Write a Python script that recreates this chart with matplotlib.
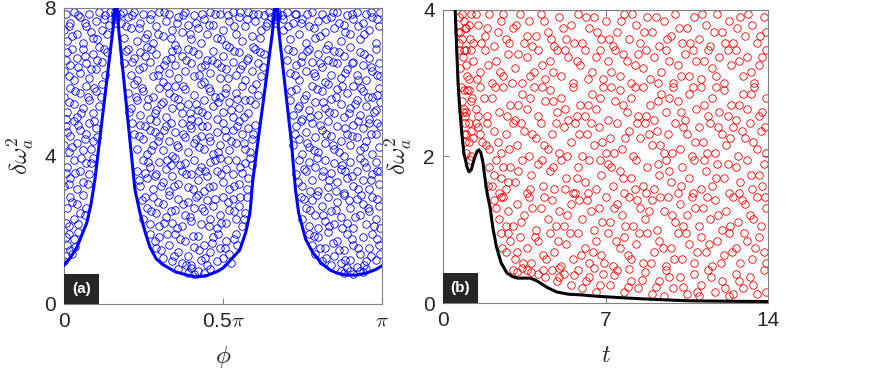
import numpy as np
import matplotlib
matplotlib.use("Agg")
import matplotlib.pyplot as plt
from matplotlib.patches import Rectangle

plt.rcParams['font.family'] = ['Liberation Sans', 'DejaVu Sans']
plt.rcParams['mathtext.fontset'] = 'cm'

GREY = '#808080'
DARK = '#262626'

# ---- panel (a): lower envelope, phi in units of pi ----
curve_a_phi = [0, 0.02, 0.04, 0.06, 0.072, 0.085, 0.097, 0.11, 0.125, 0.14, 0.155, 0.162, 0.167,
               0.171, 0.18, 0.19, 0.2, 0.21, 0.223, 0.239, 0.255, 0.27, 0.29, 0.31, 0.324, 0.35,
               0.387, 0.418, 0.45, 0.48, 0.5, 0.52, 0.553, 0.572, 0.585, 0.594, 0.61, 0.625, 0.64,
               0.655, 0.664, 0.671, 0.674, 0.685, 0.7, 0.715, 0.728, 0.738, 0.76, 0.783, 0.81,
               0.836, 0.86, 0.89, 0.92, 0.953, 0.98, 1.0]
curve_a_val = [1.05, 1.25, 1.52, 1.95, 2.2, 2.7, 3.35, 4.28, 5.35, 6.43, 7.5, 8.1, 8.1,
               7.5, 6.74, 5.9, 5.05, 4.2, 3.1, 2.46, 1.95, 1.54, 1.22, 1.07, 1.0, 0.87,
               0.78, 0.73, 0.77, 0.87, 0.97, 1.15, 1.46, 1.95, 2.46, 3.35, 4.4, 5.36, 6.33,
               7.3, 8.1, 8.1, 7.5, 6.67, 5.53, 4.39, 3.1, 2.46, 1.75, 1.38, 1.1,
               0.92, 0.83, 0.78, 0.78, 0.84, 0.93, 1.03]

# scattered samples (phi/pi, value)
scatter_a = [
    (0.36, 0.95), (0.39, 0.85), (0.41, 0.82), (0.42, 0.9), (0.44, 0.85), (0.46, 0.95), (0.40, 0.98),
    (0.87, 0.9), (0.88, 0.85), (0.9, 0.88), (0.91, 0.82), (0.93, 0.9), (0.95, 0.95), (0.94, 0.86), (0.89, 0.97),
    (0.005, 1.3), (0.01, 1.6), (0.02, 1.45), (0.03, 1.75), (0.015, 1.9), (0.045, 1.95), (0.005, 1.8),
    (0.27, 1.9), (0.29, 1.5), (0.3, 1.8), (0.31, 1.25), (0.33, 1.6), (0.34, 1.15), (0.35, 1.9), (0.36, 1.4),
    (0.37, 1.1), (0.38, 1.7), (0.39, 1.3), (0.4, 1.05), (0.41, 1.55), (0.42, 1.85), (0.43, 1.2), (0.44, 1.6),
    (0.45, 1.05), (0.46, 1.4), (0.47, 1.8), (0.48, 1.15), (0.49, 1.5), (0.5, 1.25), (0.51, 1.7), (0.52, 1.35),
    (0.54, 1.9), (0.545, 1.6),
    (0.77, 1.9), (0.78, 1.6), (0.79, 1.35), (0.8, 1.8), (0.81, 1.15), (0.82, 1.5), (0.83, 1.95), (0.84, 1.05),
    (0.85, 1.3), (0.86, 1.7), (0.87, 1.1), (0.88, 1.45), (0.89, 1.9), (0.9, 1.2), (0.91, 1.6), (0.92, 1.0),
    (0.93, 1.35), (0.94, 1.8), (0.95, 1.15), (0.96, 1.5), (0.97, 1.9), (0.98, 1.2), (0.99, 1.6), (0.995, 1.35),
    (0.005, 2.2), (0.01, 2.6), (0.02, 2.9), (0.03, 2.3), (0.04, 2.7), (0.05, 2.45), (0.06, 2.95), (0.07, 2.6),
    (0.015, 2.1),
    (0.245, 2.8), (0.25, 2.3), (0.26, 2.6), (0.27, 2.15), (0.28, 2.9), (0.29, 2.45), (0.3, 2.1), (0.31, 2.7),
    (0.32, 2.35), (0.33, 2.95), (0.34, 2.2), (0.35, 2.55), (0.36, 2.85), (0.37, 2.1), (0.38, 2.4), (0.39, 2.75),
    (0.40, 2.25), (0.41, 2.6), (0.42, 2.95), (0.43, 2.15), (0.44, 2.5), (0.45, 2.8), (0.46, 2.3), (0.47, 2.65),
    (0.48, 2.05), (0.49, 2.4), (0.5, 2.9), (0.51, 2.2), (0.52, 2.55), (0.53, 2.85), (0.54, 2.3), (0.55, 2.65),
    (0.56, 2.1), (0.57, 2.45), (0.575, 2.9),
    (0.745, 2.9), (0.75, 2.3), (0.76, 2.6), (0.77, 2.1), (0.78, 2.8), (0.79, 2.4), (0.8, 2.05), (0.81, 2.65),
    (0.82, 2.25), (0.83, 2.9), (0.84, 2.5), (0.85, 2.15), (0.86, 2.75), (0.87, 2.35), (0.88, 2.95), (0.89, 2.2),
    (0.9, 2.6), (0.91, 2.05), (0.92, 2.85), (0.93, 2.4), (0.94, 2.7), (0.95, 2.15), (0.96, 2.5), (0.97, 2.9),
    (0.98, 2.3), (0.99, 2.65), (0.995, 2.05),
    (0.0, 3.2), (0.01, 3.7), (0.02, 3.4), (0.03, 3.9), (0.04, 3.1), (0.05, 3.6), (0.06, 3.3), (0.07, 3.8),
    (0.08, 3.5), (0.09, 3.95), (0.005, 3.55),
    (0.23, 3.6), (0.24, 3.2), (0.25, 3.9), (0.26, 3.4), (0.27, 3.7), (0.28, 3.1), (0.29, 3.5), (0.3, 3.85),
    (0.31, 3.3), (0.32, 3.65), (0.33, 3.05), (0.34, 3.45), (0.35, 3.95), (0.36, 3.25), (0.37, 3.6), (0.38, 3.8),
    (0.39, 3.15), (0.4, 3.5), (0.41, 3.9), (0.42, 3.35), (0.43, 3.7), (0.44, 3.05), (0.45, 3.45), (0.46, 3.85),
    (0.47, 3.2), (0.48, 3.6), (0.49, 3.95), (0.5, 3.3), (0.51, 3.65), (0.52, 3.1), (0.53, 3.5), (0.54, 3.9),
    (0.55, 3.25), (0.56, 3.55), (0.57, 3.8), (0.58, 3.4), (0.59, 3.75), (0.335, 3.75), (0.445, 3.6), (0.255, 3.55),
    (0.73, 3.5), (0.74, 3.9), (0.75, 3.2), (0.76, 3.6), (0.77, 3.85), (0.78, 3.35), (0.79, 3.7), (0.8, 3.05),
    (0.81, 3.45), (0.82, 3.9), (0.83, 3.15), (0.84, 3.55), (0.85, 3.8), (0.86, 3.3), (0.87, 3.65), (0.88, 3.0),
    (0.89, 3.4), (0.9, 3.85), (0.91, 3.2), (0.92, 3.6), (0.93, 3.95), (0.94, 3.35), (0.95, 3.7), (0.96, 3.1),
    (0.97, 3.5), (0.98, 3.85), (0.99, 3.25), (0.995, 3.6), (0.875, 3.75),
    (0.0, 4.3), (0.005, 4.8), (0.015, 4.1), (0.02, 4.55), (0.03, 4.95), (0.04, 4.35), (0.05, 4.7), (0.06, 4.15),
    (0.07, 4.6), (0.08, 4.9), (0.09, 4.4), (0.1, 4.75), (0.105, 4.5),
    (0.22, 4.6), (0.23, 4.2), (0.24, 4.85), (0.25, 4.45), (0.26, 4.05), (0.27, 4.7), (0.28, 4.3), (0.29, 4.95),
    (0.3, 4.55), (0.31, 4.15), (0.32, 4.8), (0.33, 4.4), (0.34, 4.0), (0.35, 4.65), (0.36, 4.25), (0.37, 4.9),
    (0.38, 4.5), (0.39, 4.1), (0.4, 4.75), (0.41, 4.35), (0.42, 4.95), (0.43, 4.55), (0.44, 4.2), (0.45, 4.8),
    (0.46, 4.4), (0.47, 4.05), (0.48, 4.65), (0.49, 4.3), (0.5, 4.9), (0.51, 4.5), (0.52, 4.15), (0.53, 4.7),
    (0.54, 4.35), (0.55, 4.95), (0.56, 4.6), (0.57, 4.2), (0.58, 4.75), (0.59, 4.45), (0.6, 4.85), (0.285, 4.65),
    (0.415, 4.45),
    (0.72, 4.3), (0.73, 4.8), (0.74, 4.45), (0.75, 4.05), (0.76, 4.65), (0.77, 4.25), (0.78, 4.9), (0.79, 4.5),
    (0.8, 4.1), (0.81, 4.7), (0.82, 4.35), (0.83, 4.95), (0.84, 4.55), (0.85, 4.2), (0.86, 4.8), (0.87, 4.4),
    (0.88, 4.0), (0.89, 4.6), (0.9, 4.3), (0.91, 4.85), (0.92, 4.5), (0.93, 4.15), (0.94, 4.75), (0.95, 4.4),
    (0.96, 4.9), (0.97, 4.05), (0.98, 4.6), (0.99, 4.25), (0.995, 4.8),
    (0.0, 5.6), (0.01, 5.2), (0.02, 5.85), (0.03, 5.4), (0.04, 5.05), (0.05, 5.7), (0.06, 5.3), (0.07, 5.9),
    (0.08, 5.5), (0.09, 5.15), (0.1, 5.75), (0.11, 5.35), (0.12, 5.95), (0.005, 5.0),
    (0.2, 5.7), (0.21, 5.3), (0.22, 5.95), (0.23, 5.5), (0.24, 5.1), (0.25, 5.75), (0.26, 5.35), (0.27, 5.0),
    (0.28, 5.6), (0.29, 5.25), (0.3, 5.85), (0.31, 5.45), (0.32, 5.05), (0.33, 5.7), (0.34, 5.3), (0.35, 5.9),
    (0.36, 5.55), (0.37, 5.15), (0.38, 5.8), (0.39, 5.4), (0.4, 5.0), (0.41, 5.65), (0.42, 5.25), (0.43, 5.95),
    (0.44, 5.5), (0.45, 5.1), (0.46, 5.75), (0.47, 5.35), (0.48, 5.0), (0.49, 5.6), (0.5, 5.2), (0.51, 5.85),
    (0.52, 5.45), (0.53, 5.05), (0.54, 5.7), (0.55, 5.3), (0.56, 5.9), (0.57, 5.5), (0.58, 5.15), (0.59, 5.8),
    (0.6, 5.4), (0.61, 5.65), (0.365, 5.35), (0.475, 5.6),
    (0.71, 5.5), (0.72, 5.1), (0.73, 5.8), (0.74, 5.35), (0.75, 5.0), (0.76, 5.65), (0.77, 5.25), (0.78, 5.9),
    (0.79, 5.45), (0.8, 5.1), (0.81, 5.75), (0.82, 5.3), (0.83, 5.95), (0.84, 5.55), (0.85, 5.15), (0.86, 5.8),
    (0.87, 5.4), (0.88, 5.05), (0.89, 5.7), (0.9, 5.3), (0.91, 5.9), (0.92, 5.5), (0.93, 5.1), (0.94, 5.75),
    (0.95, 5.35), (0.96, 5.0), (0.97, 5.6), (0.98, 5.25), (0.99, 5.85), (0.995, 5.45),
    (0.0, 6.3), (0.01, 6.8), (0.02, 6.45), (0.03, 6.05), (0.04, 6.65), (0.05, 6.25), (0.06, 6.9), (0.07, 6.5),
    (0.08, 6.1), (0.09, 6.75), (0.1, 6.35), (0.11, 6.95), (0.12, 6.55), (0.13, 6.2), (0.135, 6.8), (0.005, 6.6),
    (0.19, 6.5), (0.2, 6.9), (0.21, 6.2), (0.22, 6.65), (0.23, 6.05), (0.24, 6.8), (0.25, 6.4), (0.26, 6.95),
    (0.27, 6.55), (0.28, 6.15), (0.29, 6.75), (0.3, 6.35), (0.31, 6.0), (0.32, 6.6), (0.33, 6.25), (0.34, 6.85),
    (0.35, 6.45), (0.36, 6.1), (0.37, 6.7), (0.38, 6.3), (0.39, 6.9), (0.4, 6.5), (0.41, 6.15), (0.42, 6.75),
    (0.43, 6.4), (0.44, 6.0), (0.45, 6.6), (0.46, 6.25), (0.47, 6.85), (0.48, 6.5), (0.49, 6.1), (0.5, 6.7),
    (0.51, 6.35), (0.52, 6.95), (0.53, 6.55), (0.54, 6.2), (0.55, 6.8), (0.56, 6.45), (0.57, 6.05), (0.58, 6.65),
    (0.59, 6.3), (0.6, 6.9), (0.61, 6.5), (0.62, 6.15), (0.63, 6.75),
    (0.7, 6.6), (0.71, 6.25), (0.72, 6.85), (0.73, 6.45), (0.74, 6.05), (0.75, 6.7), (0.76, 6.3), (0.77, 6.9),
    (0.78, 6.55), (0.79, 6.15), (0.8, 6.75), (0.81, 6.4), (0.82, 6.0), (0.83, 6.6), (0.84, 6.2), (0.85, 6.85),
    (0.86, 6.5), (0.87, 6.1), (0.88, 6.7), (0.89, 6.35), (0.9, 6.95), (0.91, 6.55), (0.92, 6.2), (0.93, 6.8),
    (0.94, 6.45), (0.95, 6.05), (0.96, 6.65), (0.97, 6.3), (0.98, 6.9), (0.99, 6.5), (0.995, 6.15),
    (0.0, 7.4), (0.005, 7.85), (0.01, 7.1), (0.02, 7.6), (0.03, 7.9), (0.04, 7.3), (0.05, 7.75), (0.06, 7.05),
    (0.07, 7.5), (0.08, 7.85), (0.09, 7.2), (0.1, 7.65), (0.11, 7.9), (0.12, 7.4), (0.13, 7.8), (0.14, 7.55),
    (0.145, 7.9),
    (0.16, 7.7), (0.16, 7.8), (0.16, 7.9), (0.165, 7.75), (0.165, 7.85), (0.16, 7.6),
    (0.18, 7.6), (0.185, 7.9), (0.19, 7.2), (0.2, 7.75), (0.21, 7.45), (0.22, 7.9), (0.23, 7.1), (0.24, 7.6),
    (0.25, 7.85), (0.26, 7.3), (0.27, 7.7), (0.28, 7.05), (0.29, 7.5), (0.3, 7.9), (0.31, 7.25), (0.32, 7.65),
    (0.33, 7.85), (0.34, 7.4), (0.35, 7.0), (0.36, 7.75), (0.37, 7.35), (0.38, 7.9), (0.39, 7.55), (0.4, 7.15),
    (0.41, 7.8), (0.42, 7.45), (0.43, 7.05), (0.44, 7.7), (0.45, 7.3), (0.46, 7.9), (0.47, 7.55), (0.48, 7.2),
    (0.49, 7.85), (0.5, 7.4), (0.51, 7.0), (0.52, 7.65), (0.53, 7.9), (0.54, 7.3), (0.55, 7.75), (0.56, 7.1),
    (0.57, 7.5), (0.58, 7.9), (0.59, 7.25), (0.6, 7.65), (0.61, 7.85), (0.62, 7.4), (0.63, 7.8), (0.64, 7.6),
    (0.645, 7.9),
    (0.665, 7.7), (0.665, 7.8), (0.67, 7.9), (0.67, 7.75), (0.67, 7.85), (0.665, 7.6),
    (0.685, 7.8), (0.69, 7.4), (0.7, 7.9), (0.71, 7.15), (0.72, 7.6), (0.73, 7.85), (0.74, 7.3), (0.75, 7.7),
    (0.76, 7.05), (0.77, 7.5), (0.78, 7.9), (0.79, 7.2), (0.8, 7.65), (0.81, 7.85), (0.82, 7.35), (0.83, 7.0),
    (0.84, 7.75), (0.85, 7.45), (0.86, 7.9), (0.87, 7.1), (0.88, 7.55), (0.89, 7.8), (0.9, 7.3), (0.91, 7.7),
    (0.92, 7.9), (0.93, 7.15), (0.94, 7.6), (0.95, 7.85), (0.96, 7.4), (0.97, 7.75), (0.98, 7.05), (0.99, 7.5),
    (0.995, 7.9),
    # second pass, interleaved
    (0.025, 1.35), (0.035, 1.55), (0.0, 1.15), (0.285, 1.7), (0.305, 1.45), (0.325, 1.9), (0.345, 1.3),
    (0.365, 1.75), (0.385, 1.05), (0.405, 1.85), (0.425, 1.45), (0.445, 1.25), (0.465, 1.65), (0.485, 1.9),
    (0.505, 1.5), (0.525, 1.1), (0.535, 1.75),
    (0.785, 1.85), (0.805, 1.5), (0.825, 1.25), (0.845, 1.65), (0.865, 1.45), (0.885, 1.2), (0.905, 1.75),
    (0.925, 1.5), (0.945, 1.05), (0.965, 1.3), (0.985, 1.75),
    (0.025, 2.75), (0.045, 2.15), (0.065, 2.4), (0.255, 2.9), (0.275, 2.5), (0.295, 2.75), (0.315, 2.2),
    (0.335, 2.5), (0.355, 2.05), (0.375, 2.7), (0.395, 2.35), (0.415, 2.9), (0.435, 2.6), (0.455, 2.1),
    (0.475, 2.85), (0.495, 2.2), (0.515, 2.75), (0.535, 2.5), (0.555, 2.9), (0.565, 2.3),
    (0.755, 2.85), (0.775, 2.55), (0.795, 2.95), (0.815, 2.4), (0.835, 2.1), (0.855, 2.55), (0.875, 2.05),
    (0.895, 2.8), (0.915, 2.35), (0.935, 2.95), (0.955, 2.6), (0.975, 2.1), (0.985, 2.85),
    (0.015, 3.25), (0.035, 3.55), (0.055, 3.95), (0.075, 3.25), (0.085, 3.8), (0.235, 3.35), (0.265, 3.85),
    (0.285, 3.45), (0.305, 3.2), (0.325, 3.9), (0.345, 3.2), (0.365, 3.75), (0.385, 3.5), (0.405, 3.1),
    (0.425, 3.6), (0.455, 3.15), (0.475, 3.9), (0.495, 3.5), (0.515, 3.9), (0.535, 3.2), (0.555, 3.7),
    (0.575, 3.1), (0.585, 3.95),
    (0.735, 3.3), (0.755, 3.65), (0.775, 3.05), (0.795, 3.95), (0.815, 3.6), (0.835, 3.35), (0.855, 3.05),
    (0.885, 3.6), (0.905, 3.45), (0.925, 3.1), (0.945, 3.85), (0.965, 3.35), (0.985, 3.6),
    (0.01, 4.65), (0.025, 4.25), (0.045, 4.85), (0.065, 4.45), (0.085, 4.2), (0.095, 4.95), (0.215, 4.9),
    (0.235, 4.55), (0.255, 4.8), (0.275, 4.15), (0.295, 4.4), (0.315, 4.7), (0.335, 4.9), (0.355, 4.3),
    (0.375, 4.6), (0.395, 4.85), (0.425, 4.25), (0.435, 4.8), (0.455, 4.5), (0.485, 4.1), (0.505, 4.7),
    (0.525, 4.4), (0.545, 4.8), (0.565, 4.35), (0.585, 4.1), (0.595, 4.6),
    (0.725, 4.6), (0.745, 4.95), (0.765, 4.35), (0.785, 4.15), (0.805, 4.85), (0.825, 4.6), (0.845, 4.3),
    (0.865, 4.1), (0.885, 4.75), (0.905, 4.55), (0.925, 4.95), (0.945, 4.25), (0.965, 4.6), (0.985, 4.9),
    (0.015, 5.45), (0.035, 5.75), (0.055, 5.15), (0.075, 5.6), (0.095, 5.85), (0.115, 5.6), (0.205, 5.2),
    (0.225, 5.6), (0.245, 5.85), (0.265, 5.55), (0.285, 5.15), (0.305, 5.4), (0.325, 5.9), (0.345, 5.6),
    (0.375, 5.9), (0.395, 5.15), (0.415, 5.4), (0.435, 5.2), (0.455, 5.85), (0.485, 5.45), (0.505, 5.7),
    (0.525, 5.25), (0.545, 5.55), (0.565, 5.05), (0.585, 5.5), (0.605, 5.95),
    (0.715, 5.75), (0.735, 5.3), (0.755, 5.55), (0.775, 5.05), (0.795, 5.8), (0.815, 5.45), (0.835, 5.2),
    (0.855, 5.6), (0.875, 5.9), (0.895, 5.15), (0.915, 5.4), (0.935, 5.85), (0.955, 5.6), (0.975, 5.2),
    (0.985, 5.65),
    (0.015, 6.15), (0.025, 6.9), (0.045, 6.4), (0.065, 6.7), (0.085, 6.35), (0.105, 6.6), (0.125, 6.9),
    (0.195, 6.85), (0.215, 6.55), (0.235, 6.35), (0.255, 6.7), (0.275, 6.9), (0.295, 6.2), (0.315, 6.45),
    (0.335, 6.65), (0.355, 6.9), (0.385, 6.6), (0.405, 6.85), (0.425, 6.2), (0.445, 6.45), (0.465, 6.6),
    (0.495, 6.4), (0.515, 6.1), (0.535, 6.85), (0.555, 6.35), (0.575, 6.6), (0.595, 6.95), (0.615, 6.8),
    (0.625, 6.4),
    (0.705, 6.9), (0.725, 6.2), (0.745, 6.55), (0.765, 6.85), (0.785, 6.25), (0.805, 6.5), (0.825, 6.9),
    (0.845, 6.55), (0.865, 6.8), (0.885, 6.25), (0.905, 6.5), (0.925, 6.05), (0.945, 6.75), (0.965, 6.4),
    (0.985, 6.2),
    (0.015, 7.5), (0.025, 7.25), (0.045, 7.8), (0.065, 7.6), (0.085, 7.35), (0.105, 7.15), (0.125, 7.7),
    (0.135, 7.3), (0.175, 7.85), (0.195, 7.5), (0.215, 7.8), (0.235, 7.45), (0.255, 7.2), (0.275, 7.85),
    (0.295, 7.3), (0.315, 7.9), (0.335, 7.2), (0.355, 7.6), (0.375, 7.8), (0.395, 7.3), (0.415, 7.6),
    (0.435, 7.85), (0.455, 7.55), (0.475, 7.85), (0.495, 7.15), (0.515, 7.8), (0.535, 7.5), (0.555, 7.9),
    (0.575, 7.7), (0.595, 7.85), (0.615, 7.2), (0.635, 7.5), (0.65, 7.75),
    (0.69, 7.7), (0.705, 7.5), (0.725, 7.85), (0.745, 7.6), (0.765, 7.85), (0.785, 7.45), (0.805, 7.25),
    (0.825, 7.7), (0.845, 7.9), (0.865, 7.6), (0.885, 7.35), (0.905, 7.85), (0.925, 7.5), (0.945, 7.3),
    (0.965, 7.9), (0.985, 7.7),
]

# ---- panel (b): lower envelope vs t ----
curve_b_t = [0.5, 0.55, 0.6, 0.65, 0.72, 0.81, 0.9, 1.03, 1.12, 1.22, 1.35, 1.47, 1.55, 1.63, 1.72,
             1.8, 1.9, 2.03, 2.15, 2.3, 2.5, 2.75, 3.0, 3.2, 3.5, 3.75, 4.0, 4.2, 4.5, 4.9, 5.4,
             6.0, 6.3, 7.0, 7.8, 9.0, 10.6, 12.0, 14.0]
curve_b_val = [4.2, 3.8, 3.4, 3.0, 2.65, 2.32, 2.05, 1.86, 1.79, 1.82, 1.97, 2.07, 2.09, 2.05, 1.92,
               1.72, 1.5, 1.3, 1.02, 0.77, 0.55, 0.41, 0.36, 0.34, 0.34, 0.34, 0.31, 0.27, 0.21, 0.15, 0.12,
               0.11, 0.1, 0.085, 0.07, 0.05, 0.03, 0.025, 0.02]

scatter_b = [
    (0.7, 3.9), (0.8, 3.6), (1.0, 3.75), (1.2, 3.95), (1.3, 3.55), (1.5, 3.8), (1.8, 3.65), (2.0, 3.95),
    (2.2, 3.5), (2.5, 3.85), (2.7, 3.6), (3.0, 3.75), (3.3, 3.95), (3.5, 3.55), (3.7, 3.85), (4.0, 3.65),
    (4.2, 3.95), (4.5, 3.7), (4.8, 3.5), (5.0, 3.9), (5.3, 3.6), (5.5, 3.8), (5.8, 3.95), (6.0, 3.55),
    (6.3, 3.75), (6.5, 3.9), (6.8, 3.6), (7.0, 3.85), (7.3, 3.5), (7.5, 3.7), (7.8, 3.95), (8.0, 3.6),
    (8.3, 3.8), (8.5, 3.55), (8.8, 3.9), (9.0, 3.7), (9.3, 3.5), (9.5, 3.85), (9.8, 3.65), (10.0, 3.95),
    (10.3, 3.55), (10.5, 3.75), (10.8, 3.9), (11.0, 3.6), (11.3, 3.8), (11.5, 3.5), (11.8, 3.95), (12.0, 3.7),
    (12.3, 3.85), (12.5, 3.55), (12.8, 3.9), (13.0, 3.65), (13.3, 3.8), (13.5, 3.55), (13.8, 3.9), (13.9, 3.7),
    (0.75, 3.2), (0.9, 3.45), (1.1, 3.05), (1.3, 3.3), (1.6, 3.15), (1.8, 3.45), (2.1, 3.0), (2.3, 3.3),
    (2.6, 3.1), (2.8, 3.4), (3.1, 3.2), (3.4, 3.0), (3.6, 3.35), (3.9, 3.15), (4.1, 3.45), (4.4, 3.05),
    (4.6, 3.3), (4.9, 3.45), (5.1, 3.1), (5.4, 3.35), (5.6, 3.0), (5.9, 3.25), (6.1, 3.45), (6.4, 3.15),
    (6.6, 3.35), (6.9, 3.05), (7.1, 3.3), (7.4, 3.45), (7.6, 3.1), (7.9, 3.3), (8.1, 3.0), (8.4, 3.4),
    (8.6, 3.2), (8.9, 3.05), (9.1, 3.35), (9.4, 3.15), (9.6, 3.45), (9.9, 3.0), (10.1, 3.25), (10.4, 3.4),
    (10.6, 3.1), (10.9, 3.3), (11.1, 3.05), (11.4, 3.45), (11.6, 3.2), (11.9, 3.35), (12.1, 3.0), (12.4, 3.25),
    (12.6, 3.45), (12.9, 3.1), (13.1, 3.35), (13.4, 3.0), (13.6, 3.25), (13.9, 3.45),
    (0.8, 2.75), (0.95, 2.55), (1.1, 2.9), (1.4, 2.65), (1.6, 2.95), (1.9, 2.55), (2.1, 2.8), (2.4, 2.6),
    (2.6, 2.95), (2.9, 2.7), (3.1, 2.5), (3.4, 2.85), (3.6, 2.65), (3.9, 2.95), (4.1, 2.55), (4.4, 2.75),
    (4.6, 2.9), (4.9, 2.6), (5.1, 2.8), (5.4, 2.5), (5.6, 2.95), (5.9, 2.7), (6.1, 2.55), (6.4, 2.85),
    (6.6, 2.65), (6.9, 2.95), (7.1, 2.5), (7.4, 2.75), (7.6, 2.9), (7.9, 2.6), (8.1, 2.8), (8.4, 2.55),
    (8.6, 2.95), (8.9, 2.7), (9.1, 2.5), (9.4, 2.85), (9.6, 2.6), (9.9, 2.95), (10.1, 2.75), (10.4, 2.5),
    (10.6, 2.85), (10.9, 2.65), (11.1, 2.95), (11.4, 2.55), (11.6, 2.8), (11.9, 2.6), (12.1, 2.9), (12.4, 2.7),
    (12.6, 2.5), (12.9, 2.85), (13.1, 2.65), (13.4, 2.95), (13.6, 2.55), (13.9, 2.8),
    (0.9, 2.3), (1.0, 2.05), (1.1, 2.45), (1.3, 2.25), (1.5, 2.4), (1.7, 2.2), (1.9, 2.45), (2.0, 2.1),
    (2.2, 2.35), (2.5, 2.05), (2.7, 2.3), (3.0, 2.45), (3.2, 2.15), (3.5, 2.35), (3.7, 2.0), (4.0, 2.25),
    (4.2, 2.45), (4.5, 2.1), (4.7, 2.3), (5.0, 2.05), (5.2, 2.4), (5.5, 2.2), (5.7, 2.45), (6.0, 2.0),
    (6.2, 2.3), (6.5, 2.15), (6.7, 2.4), (7.0, 2.05), (7.2, 2.25), (7.5, 2.45), (7.7, 2.1), (8.0, 2.35),
    (8.2, 2.0), (8.5, 2.25), (8.7, 2.45), (9.0, 2.15), (9.2, 2.35), (9.5, 2.05), (9.7, 2.3), (10.0, 2.45),
    (10.2, 2.1), (10.5, 2.3), (10.7, 2.0), (11.0, 2.4), (11.2, 2.2), (11.5, 2.45), (11.7, 2.05), (12.0, 2.3),
    (12.2, 2.15), (12.5, 2.4), (12.7, 2.0), (13.0, 2.25), (13.2, 2.45), (13.5, 2.1), (13.7, 2.35), (13.9, 2.05),
    (2.0, 1.85), (2.1, 1.6), (2.3, 1.95), (2.5, 1.7), (2.7, 1.55), (2.9, 1.85), (3.1, 1.65), (3.4, 1.95),
    (3.6, 1.5), (3.8, 1.75), (4.1, 1.9), (4.3, 1.6), (4.6, 1.8), (4.8, 1.55), (5.1, 1.95), (5.3, 1.7),
    (5.6, 1.5), (5.8, 1.85), (6.1, 1.65), (6.3, 1.95), (6.6, 1.55), (6.8, 1.75), (7.1, 1.9), (7.3, 1.6),
    (7.6, 1.8), (7.8, 1.5), (8.1, 1.7), (8.3, 1.95), (8.6, 1.6), (8.8, 1.85), (9.1, 1.55), (9.3, 1.75),
    (9.6, 1.95), (9.8, 1.65), (10.1, 1.5), (10.3, 1.85), (10.6, 1.7), (10.8, 1.95), (11.1, 1.55), (11.3, 1.8),
    (11.6, 1.6), (11.8, 1.9), (12.1, 1.7), (12.3, 1.5), (12.6, 1.85), (12.8, 1.65), (13.1, 1.95), (13.3, 1.55),
    (13.6, 1.75), (13.8, 1.9),
    (2.2, 1.4), (2.4, 1.15), (2.6, 1.45), (2.8, 1.25), (3.0, 1.05), (3.2, 1.35), (3.5, 1.2), (3.7, 1.45),
    (4.0, 1.0), (4.2, 1.3), (4.5, 1.15), (4.7, 1.4), (5.0, 1.25), (5.2, 1.05), (5.5, 1.35), (5.7, 1.5),
    (6.0, 1.15), (6.2, 1.4), (6.5, 1.0), (6.7, 1.3), (7.0, 1.45), (7.2, 1.1), (7.5, 1.35), (7.7, 1.2),
    (8.0, 1.45), (8.2, 1.05), (8.5, 1.3), (8.7, 1.15), (9.0, 1.4), (9.2, 1.0), (9.5, 1.25), (9.7, 1.45),
    (10.0, 1.1), (10.2, 1.35), (10.5, 1.2), (10.7, 1.45), (11.0, 1.05), (11.2, 1.3), (11.5, 1.15), (11.7, 1.4),
    (12.0, 1.0), (12.2, 1.25), (12.5, 1.45), (12.7, 1.1), (13.0, 1.35), (13.2, 1.2), (13.5, 1.45), (13.7, 1.05),
    (13.9, 1.3),
    (2.5, 0.95), (2.7, 0.7), (2.9, 0.85), (3.1, 0.6), (3.3, 0.9), (3.6, 0.75), (3.8, 0.55), (4.1, 0.85),
    (4.3, 0.65), (4.6, 0.95), (4.8, 0.7), (5.1, 0.5), (5.3, 0.8), (5.6, 0.6), (5.8, 0.95), (6.1, 0.75),
    (6.3, 0.55), (6.6, 0.85), (6.8, 0.65), (7.1, 0.95), (7.3, 0.5), (7.6, 0.75), (7.8, 0.9), (8.1, 0.6),
    (8.3, 0.8), (8.6, 0.55), (8.8, 0.95), (9.1, 0.7), (9.3, 0.85), (9.6, 0.5), (9.8, 0.75), (10.1, 0.95),
    (10.3, 0.6), (10.6, 0.8), (10.8, 0.55), (11.1, 0.9), (11.3, 0.7), (11.6, 0.5), (11.8, 0.85), (12.1, 0.65),
    (12.3, 0.95), (12.6, 0.75), (12.8, 0.55), (13.1, 0.85), (13.3, 0.6), (13.6, 0.9), (13.8, 0.7),
    (3.0, 0.45), (3.4, 0.48), (3.8, 0.42), (4.1, 0.4), (4.4, 0.35), (4.7, 0.45), (4.9, 0.3), (5.2, 0.4),
    (5.5, 0.25), (5.8, 0.45), (6.0, 0.2), (6.3, 0.35), (6.6, 0.15), (6.9, 0.4), (7.2, 0.25), (7.5, 0.45),
    (7.8, 0.15), (8.1, 0.3), (8.4, 0.2), (8.7, 0.42), (9.0, 0.12), (9.3, 0.3), (9.6, 0.45), (9.9, 0.2),
    (10.2, 0.35), (10.5, 0.12), (10.8, 0.4), (11.1, 0.25), (11.4, 0.45), (11.7, 0.15), (12.0, 0.3), (12.3, 0.1),
    (12.6, 0.4), (12.9, 0.2), (13.2, 0.35), (13.5, 0.12), (13.8, 0.45), (5.0, 0.48), (6.5, 0.48), (8.0, 0.47),
    (0.85, 3.35), (0.9, 2.9), (0.95, 3.75), (1.0, 2.6), (1.05, 3.1), (1.1, 2.2), (1.15, 1.95), (1.2, 2.75),
    (1.0, 3.45), (0.8, 3.95),
    # second pass, interleaved
    (0.65, 3.7), (0.9, 3.85), (1.15, 3.6), (1.4, 3.95), (1.65, 3.55), (1.9, 3.75), (2.35, 3.7), (2.6, 3.95),
    (2.85, 3.55), (3.15, 3.8), (3.6, 3.65), (3.85, 3.5), (4.35, 3.85), (4.65, 3.6), (5.15, 3.75), (5.65, 3.55),
    (6.15, 3.9), (6.65, 3.7), (7.15, 3.6), (7.65, 3.85), (8.15, 3.95), (8.65, 3.7), (9.15, 3.9), (9.65, 3.6),
    (10.15, 3.75), (10.65, 3.55), (11.15, 3.95), (11.65, 3.7), (12.15, 3.55), (12.65, 3.75), (13.15, 3.95),
    (13.65, 3.65),
    (0.7, 3.45), (1.0, 3.25), (1.2, 3.45), (1.45, 3.05), (1.95, 3.25), (2.45, 3.15), (2.95, 3.0), (3.25, 3.4),
    (3.75, 3.1), (4.25, 3.25), (4.75, 3.15), (5.25, 3.45), (5.75, 3.3), (6.25, 3.05), (6.75, 3.45), (7.25, 3.15),
    (7.75, 3.4), (8.25, 3.25), (8.75, 3.45), (9.25, 3.0), (9.75, 3.3), (10.25, 3.1), (10.75, 3.45), (11.25, 3.3),
    (11.75, 3.1), (12.25, 3.45), (12.75, 3.3), (13.25, 3.15), (13.75, 3.35),
    (0.78, 2.95), (0.9, 2.65), (1.25, 2.8), (1.5, 2.55), (1.75, 2.8), (2.25, 2.95), (2.75, 2.55), (3.25, 2.7),
    (3.75, 2.8), (4.25, 2.95), (4.75, 2.75), (5.25, 2.65), (5.75, 2.55), (6.25, 2.7), (6.75, 2.8), (7.25, 2.95),
    (7.75, 2.7), (8.25, 2.95), (8.75, 2.55), (9.25, 2.75), (9.75, 2.8), (10.25, 2.6), (10.75, 2.95), (11.25, 2.7),
    (11.75, 2.95), (12.25, 2.55), (12.75, 2.7), (13.25, 2.85), (13.75, 2.6),
    (0.95, 2.2), (1.2, 2.35), (1.4, 2.45), (1.6, 2.3), (1.85, 2.15), (2.35, 2.2), (2.85, 2.1), (3.35, 2.45),
    (3.85, 2.3), (4.35, 2.15), (4.85, 2.45), (5.35, 2.0), (5.85, 2.3), (6.35, 2.45), (6.85, 2.2), (7.35, 2.05),
    (7.85, 2.25), (8.35, 2.45), (8.85, 2.3), (9.35, 2.15), (9.85, 2.05), (10.35, 2.4), (10.85, 2.2), (11.35, 2.05),
    (11.85, 2.4), (12.35, 2.25), (12.85, 2.35), (13.35, 2.2), (13.85, 2.4),
    (1.95, 1.6), (2.2, 1.75), (2.4, 1.5), (2.6, 1.85), (2.8, 1.65), (3.25, 1.8), (3.75, 1.55), (4.25, 1.95),
    (4.75, 1.85), (5.25, 1.55), (5.75, 1.7), (6.25, 1.5), (6.75, 1.95), (7.25, 1.85), (7.75, 1.7), (8.25, 1.55),
    (8.75, 1.5), (9.25, 1.9), (9.75, 1.8), (10.25, 1.6), (10.75, 1.5), (11.25, 1.95), (11.75, 1.7), (12.25, 1.9),
    (12.75, 1.5), (13.25, 1.75), (13.75, 1.6),
    (2.3, 1.3), (2.5, 1.45), (2.7, 1.05), (3.35, 1.1), (3.85, 1.3), (4.35, 1.45), (4.85, 1.05), (5.35, 1.2),
    (5.85, 1.4), (6.35, 1.25), (6.85, 1.1), (7.35, 1.3), (7.85, 1.05), (8.35, 1.4), (8.85, 1.25), (9.35, 1.45),
    (9.85, 1.2), (10.35, 1.05), (10.85, 1.3), (11.35, 1.45), (11.85, 1.2), (12.35, 1.05), (12.85, 1.4),
    (13.35, 1.15), (13.85, 1.45),
    (2.55, 0.75), (2.8, 0.95), (3.2, 0.7), (3.45, 0.55), (3.95, 0.9), (4.45, 0.6), (4.95, 0.85), (5.45, 0.95),
    (5.95, 0.65), (6.45, 0.7), (6.95, 0.55), (7.45, 0.85), (7.95, 0.65), (8.45, 0.95), (8.95, 0.55), (9.45, 0.75),
    (9.95, 0.6), (10.45, 0.95), (10.95, 0.7), (11.45, 0.8), (11.95, 0.55), (12.45, 0.7), (12.95, 0.95),
    (13.45, 0.75), (13.9, 0.55),
    (3.2, 0.42), (3.6, 0.45), (4.3, 0.45), (5.0, 0.35), (5.65, 0.38), (6.15, 0.3), (6.75, 0.25), (7.35, 0.38),
    (7.95, 0.22), (8.55, 0.32), (9.15, 0.22), (9.75, 0.35), (10.35, 0.22), (10.95, 0.15), (11.55, 0.35),
    (12.15, 0.2), (12.75, 0.3), (13.35, 0.25), (13.9, 0.15), (9.5, 0.1), (11.0, 0.1), (12.5, 0.12),
    (0.75, 3.7), (0.7, 3.55), (0.85, 2.6), (0.95, 2.45), (1.05, 2.9), (1.1, 3.8), (1.0, 2.3), (1.2, 2.0),
]


def style_axes(ax):
    for s in ax.spines.values():
        s.set_color(GREY)
        s.set_linewidth(0.8)
    ax.tick_params(direction='in', length=4, width=0.8, color=GREY, labelcolor=DARK,
                   labelsize=15, pad=6, top=True, right=True)


def tag(ax, text, w, h):
    ax.add_patch(Rectangle((0, 0), w, h, transform=ax.transAxes, facecolor=DARK,
                           edgecolor='none', zorder=6, clip_on=False))
    ax.text(w / 2, h / 2, text, transform=ax.transAxes, ha='center', va='center',
            color='white', fontsize=11, fontweight='bold', zorder=7)


fig = plt.figure(figsize=(8.72, 3.79), dpi=100)

# panel (a)
ax1 = fig.add_axes([0.0734, 0.198, 0.3646, 0.781])
pa_x, pa_y = np.array(scatter_a).T
ax1.plot(pa_x, pa_y, 'o', mfc='none', mec='b', ms=5.4, mew=0.6, zorder=2)
ax1.plot(curve_a_phi, curve_a_val, color='b', lw=2.2, zorder=3)
ax1.set_xlim(0, 1)
ax1.set_ylim(0, 8)
ax1.set_xticks([0, 0.5, 1])
ax1.set_xticklabels(['0', r'0.5$\pi$', r'$\pi$'])
ax1.set_yticks([0, 4, 8])
ax1.set_xlabel(r'$\phi$', fontsize=18, color=DARK)
ax1.set_ylabel(r'$\delta\omega_a^2$', fontsize=18, color=DARK)
ax1.xaxis.set_label_coords(0.5, -0.136)
ax1.yaxis.set_label_coords(-0.085, 0.5)
style_axes(ax1)
tag(ax1, '(a)', 0.11, 0.101)

# panel (b)
ax2 = fig.add_axes([0.508, 0.2005, 0.373, 0.7735])
pb_x, pb_y = np.array(scatter_b).T
ax2.plot(pb_x, pb_y, 'o', mfc='none', mec='r', ms=5.4, mew=0.6, zorder=2)
ax2.plot(curve_b_t, curve_b_val, color='k', lw=2.2, zorder=3)
ax2.set_xlim(0, 14)
ax2.set_ylim(0, 4)
ax2.set_xticks([0, 7, 14])
ax2.set_yticks([0, 2, 4])
ax2.set_xlabel(r'$t$', fontsize=18, color=DARK)
ax2.set_ylabel(r'$\delta\omega_a^2$', fontsize=18, color=DARK)
ax2.xaxis.set_label_coords(0.5, -0.136)
ax2.yaxis.set_label_coords(-0.086, 0.5)
style_axes(ax2)
tag(ax2, '(b)', 0.108, 0.102)

fig.savefig('out.png', dpi=100)
